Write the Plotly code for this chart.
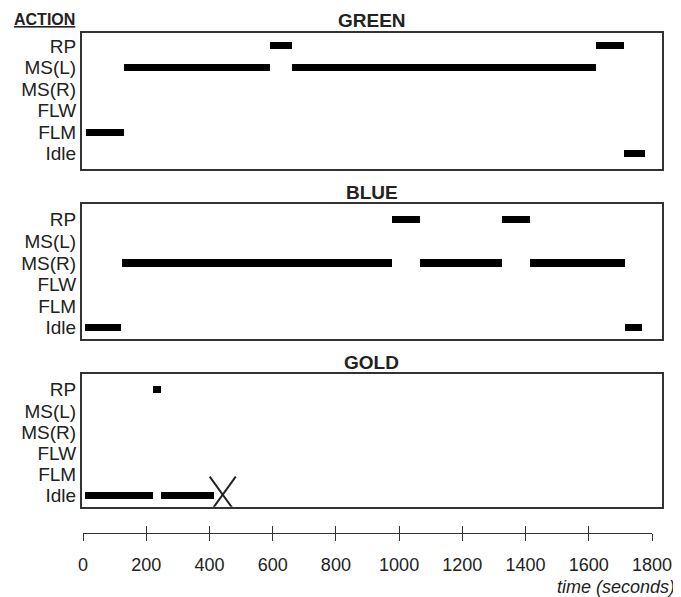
import plotly.graph_objects as go

# ---- data ----
categories = ["Idle", "FLM", "FLW", "MS(R)", "MS(L)", "RP"]
panel_names = ["GREEN", "BLUE", "GOLD"]

green_action = ["FLM", "MS(L)", "RP", "MS(L)", "RP", "Idle"]
green_start = [10, 130, 592, 660, 1622, 1710]
green_end = [130, 592, 660, 1622, 1710, 1776]

blue_action = ["Idle", "MS(R)", "RP", "MS(R)", "RP", "MS(R)", "Idle"]
blue_start = [6, 122, 978, 1066, 1323, 1412, 1715]
blue_end = [120, 978, 1066, 1323, 1412, 1715, 1767]

gold_action = ["Idle", "RP", "Idle"]
gold_start = [6, 220, 247]
gold_end = [220, 247, 412]
gold_stop_time = 442   # X marker
gold_stop_action = "Idle"

time_ticks = [0, 200, 400, 600, 800, 1000, 1200, 1400, 1600, 1800]

# ---- layout constants (window pixels; page body has an 8px margin) ----
OFF = 8
W, H = 681 - OFF, 597 - OFF
FONT = "Liberation Sans, Arial, sans-serif"
INK = "#222222"
box_left, box_right = 81.7, 661.7
panel_px = [(33, 169), (204, 339), (374.3, 506.7)]
y_ranges = [[-0.71, 5.60], [-0.52, 5.73], [-0.52, 5.73]]
x_range = [-4.1, 1830.7]

def px(p):
    return (p - OFF) / W

def py(p):
    return 1 - (p - OFF) / H

fig = go.Figure()
datasets = [
    (green_action, green_start, green_end),
    (blue_action, blue_start, blue_end),
    (gold_action, gold_start, gold_end),
]
for i, (acts, st, en) in enumerate(datasets):
    n = i + 1
    fig.add_trace(go.Bar(
        orientation="h",
        y=[categories.index(a) for a in acts],
        base=st,
        x=[e - s for s, e in zip(st, en)],
        width=0.33,
        marker=dict(color="black", line=dict(width=0)),
        xaxis=f"x{n}", yaxis=f"y{n}",
        showlegend=False, hoverinfo="skip",
    ))

# dummy traces for bottom axes
fig.add_trace(go.Scatter(x=[None], y=[None], xaxis="x4", yaxis="y4", showlegend=False))
fig.add_trace(go.Scatter(x=[None], y=[None], xaxis="x5", yaxis="y4", showlegend=False))

lay = {}
for i in range(3):
    n = i + 1
    top, bot = panel_px[i]
    suffix = "" if n == 1 else str(n)
    lay[f"xaxis{suffix}"] = dict(
        domain=[px(box_left), px(box_right)], range=x_range,
        anchor=f"y{n}", showticklabels=False, ticks="", showgrid=False,
        zeroline=False, showline=True, mirror=True, automargin=False,
        linecolor="#333333", linewidth=1.5,
    )
    lay[f"yaxis{suffix}"] = dict(
        domain=[py(bot), py(top)], range=y_ranges[i],
        anchor=f"x{n}", tickvals=list(range(len(categories))),
        ticktext=categories, ticks="", showgrid=False, zeroline=False,
        showline=True, mirror=True, linecolor="#333333", linewidth=1.5,
        tickfont=dict(family=FONT, size=19, color=INK),
        ticklabelstandoff=0, automargin=False,
    )

axis_y = py(532.7)
lay["xaxis4"] = dict(
    domain=[px(83), px(652)], range=[0, 1800], anchor="free", position=axis_y,
    tickvals=time_ticks, ticks="outside", ticklen=7, tickwidth=1.3,
    tickcolor="#333333", showline=True, linecolor="#333333", linewidth=1.3,
    showgrid=False, zeroline=False, automargin=False, ticklabelstandoff=9,
    tickfont=dict(family=FONT, size=18, color=INK),
)
lay["xaxis5"] = dict(
    domain=[px(83), px(652)], range=[0, 1800], anchor="free", position=axis_y,
    overlaying="x4", tickvals=time_ticks, ticks="inside", ticklen=7,
    tickwidth=1.3, tickcolor="#333333", showline=False, showgrid=False,
    zeroline=False, showticklabels=False, automargin=False,
)
lay["yaxis4"] = dict(domain=[0, 0.01], visible=False, anchor="x4", automargin=False)

annotations = []
title_centers = [21, 192, 362]
for name, yc in zip(panel_names, title_centers):
    annotations.append(dict(
        text=f"<b>{name}</b>", x=px((box_left + box_right) / 2), y=py(yc),
        xref="paper", yref="paper", showarrow=False, xanchor="center",
        yanchor="middle", font=dict(family=FONT, size=19, color=INK),
    ))
annotations.append(dict(
    text="<b><u>ACTION</u></b>", x=px(44.5), y=py(20), xref="paper",
    yref="paper", showarrow=False, xanchor="center", yanchor="middle",
    font=dict(family=FONT, size=16, color=INK),
))
annotations.append(dict(
    text="<i>time (seconds)</i>", x=px(677), y=py(587), xref="paper",
    yref="paper", showarrow=False, xanchor="right", yanchor="middle",
    font=dict(family=FONT, size=18, color=INK),
))

shapes = []
yi = categories.index(gold_stop_action)
for (x0, y0, x1, y1) in [(-13, -17, 13, 19), (-13, 19, 13, -17)]:
    shapes.append(dict(
        type="line", xref="x3", yref="y3", xsizemode="pixel", ysizemode="pixel",
        xanchor=gold_stop_time, yanchor=yi, x0=x0, x1=x1, y0=y0, y1=y1,
        line=dict(color="#222222", width=2),
    ))

fig.update_layout(
    width=W, height=H, margin=dict(l=0, r=0, t=0, b=0, pad=0),
    paper_bgcolor="white", plot_bgcolor="white",
    annotations=annotations, shapes=shapes, bargap=0, **lay,
)

fig.write_html("out.html")
